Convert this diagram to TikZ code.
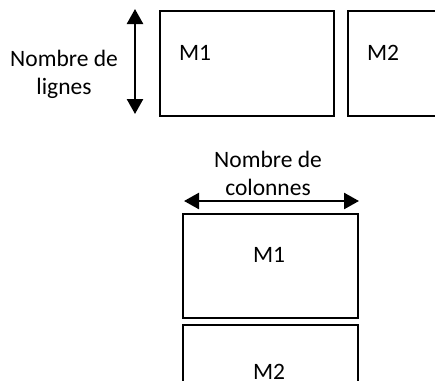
\documentclass[tikz,border=0pt]{standalone}
\usepackage{fontspec}
\setmainfont{Carlito}
\usetikzlibrary{arrows.meta}
\begin{document}
\begin{tikzpicture}[x=1pt,y=-1pt,
  mat/.style={draw=black,line width=1.8pt,minimum width=#1,inner sep=0pt,anchor=north west},
  lbl/.style={font=\fontsize{23.5}{28}\selectfont,inner sep=0pt,align=center},
  dim/.style={line width=2.5pt,{Triangle[length=15pt,width=16pt]}-{Triangle[length=15pt,width=16pt]}}]
\useasboundingbox (0,0) rectangle (435,380);
\clip (0,0) rectangle (435,380);
% top row
\node[mat=174pt,minimum height=105pt] (t1) at (159,10) {};
\node[mat=120pt,minimum height=105pt] (t2) at (347,10) {};
\node[lbl] (t1l) at (195,53) {M1};
\node[lbl] (t2l) at (383,53) {M2};
\coordinate (va) at (135,9);
\coordinate (vb) at (135,114);
\draw[dim] (va) -- (vb);
\node[lbl] (rows) at (64,74) {Nombre de\\lignes};
% bottom column
\node[mat=175pt,minimum height=104pt] (b1) at (182,213) {};
\node[mat=175pt,minimum height=80pt] (b2) at (182,324) {};
\node[lbl] (b1l) at (269,255) {M1};
\node[lbl] (b2l) at (269,372) {M2};
\coordinate (ha) at (184,201);
\coordinate (hb) at (359,201);
\draw[dim] (ha) -- (hb);
\node[lbl] (cols) at (268,173) {Nombre de\\colonnes};
\end{tikzpicture}
\end{document}
